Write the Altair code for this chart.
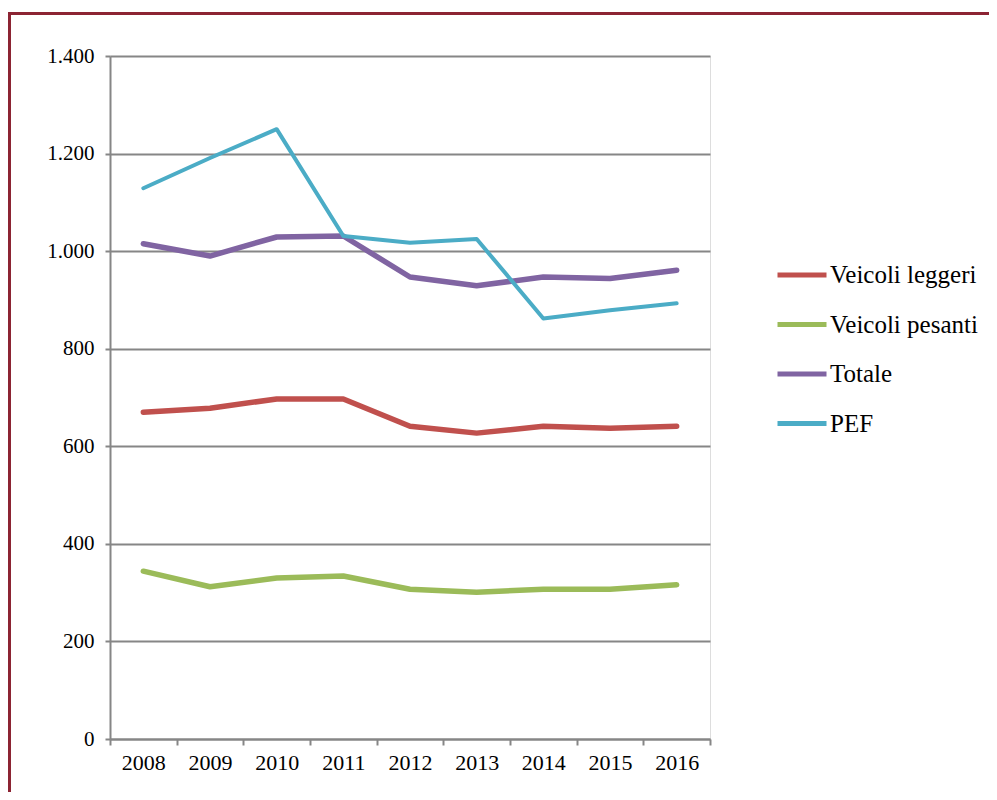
import altair as alt
import pandas as pd

years = ["2008", "2009", "2010", "2011", "2012", "2013", "2014", "2015", "2016"]
veicoli_leggeri = [670, 678, 697, 697, 641, 627, 641, 637, 641]
veicoli_pesanti = [344, 312, 330, 334, 307, 301, 307, 307, 316]
totale = [1015, 990, 1029, 1031, 947, 929, 947, 944, 961]
pef = [1129, 1191, 1250, 1031, 1017, 1025, 862, 879, 893]

series_names = ["Veicoli leggeri", "Veicoli pesanti", "Totale", "PEF"]
series_values = [veicoli_leggeri, veicoli_pesanti, totale, pef]
colors = ["#C0504D", "#9BBB59", "#8064A2", "#4BACC6"]
y_ticks = [0, 200, 400, 600, 800, 1000, 1200, 1400]

rows = []
for name, vals in zip(series_names, series_values):
    for yr, v in zip(years, vals):
        rows.append({"year": yr, "series": name, "value": v})
df = pd.DataFrame(rows)

FONT = "Liberation Serif"
GRID = "#868686"

lines = alt.Chart(df).mark_line(strokeCap="round", strokeJoin="round").encode(
    x=alt.X(
        "year:O",
        sort=years,
        scale=alt.Scale(type="band", paddingInner=0, paddingOuter=0),
        axis=alt.Axis(
            title=None, labelAngle=0, tickBand="extent", tickSize=6,
            tickColor=GRID, tickWidth=2, domainColor=GRID, domainWidth=2,
            labelFont=FONT, labelFontSize=22, labelColor="black", labelPadding=7,
            grid=False,
        ),
    ),
    y=alt.Y(
        "value:Q",
        scale=alt.Scale(domain=[0, 1400], nice=False, zero=True),
        axis=alt.Axis(
            title=None, values=y_ticks, tickSize=5, tickColor=GRID, tickWidth=2,
            domainColor=GRID, domainWidth=2, grid=True, gridColor=GRID, gridWidth=2,
            labelFont=FONT, labelFontSize=21, labelColor="black", labelPadding=11,
            labelExpr="replace(format(datum.value, ','), ',', '.')",
        ),
    ),
    color=alt.Color(
        "series:N",
        sort=series_names,
        scale=alt.Scale(domain=series_names, range=colors),
        legend=alt.Legend(
            title=None, orient="none", legendX=665, legendY=192,
            symbolType="stroke", symbolSize=2401, symbolStrokeWidth=5,
            labelFont=FONT, labelFontSize=25, labelColor="black",
            labelOffset=1, rowPadding=9.5, labelLimit=300,
        ),
    ),
    strokeWidth=alt.condition("datum.series == 'PEF'", alt.value(4), alt.value(5.5)),
)

frame = alt.Chart(alt.Data(values=[{"a": 1}])).mark_rect(
    fill="transparent", stroke="#8C2433", strokeWidth=3
).encode(
    x=alt.value(-100.5), x2=alt.value(950),
    y=alt.value(-42.5), y2=alt.value(800),
)

chart = alt.layer(frame, lines).properties(
    width=600, height=683,
    autosize=alt.AutoSizeParams(type="none"),
    padding={"left": 102, "top": 48, "right": 279, "bottom": 53},
).configure_view(stroke=None).configure(background="white")

chart.save("out.html", embed_options={"renderer": "svg", "actions": False})
